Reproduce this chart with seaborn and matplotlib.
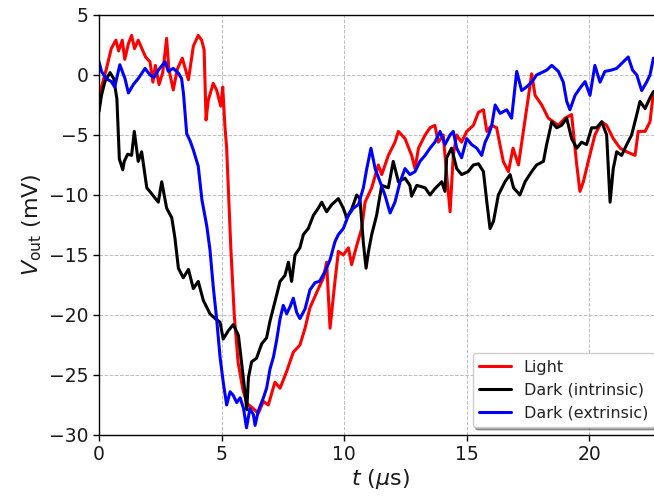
import numpy as np
import pandas as pd
import matplotlib
matplotlib.use("Agg")
import matplotlib.pyplot as plt
import seaborn as sns
from matplotlib.lines import Line2D

# ---- data ----
t_light = [0.0, 0.1, 0.3, 0.5, 0.69, 0.8, 0.95, 1.05, 1.2, 1.33,
           1.45, 1.6, 1.75, 1.9, 2.08, 2.2, 2.3, 2.45, 2.6, 2.76,
           2.85, 3.03, 3.2, 3.4, 3.65, 3.85, 4.05, 4.19, 4.29, 4.37,
           4.46, 4.66, 4.8, 4.97, 5.05, 5.14, 5.21, 5.38, 5.52, 5.68,
           5.88, 6.05, 6.3, 6.5, 6.71, 6.91, 7.18, 7.39, 7.66, 7.93,
           8.2, 8.41, 8.61, 8.89, 9.16, 9.29, 9.43, 9.63, 9.77, 9.97,
           10.18, 10.31, 10.52, 10.72, 10.86, 11.13, 11.4, 11.54, 11.81, 12.08,
           12.22, 12.49, 12.76, 12.9, 13.04, 13.31, 13.51, 13.71, 13.85, 14.05,
           14.19, 14.33, 14.46, 14.6, 14.8, 15.01, 15.28, 15.49, 15.69, 15.83,
           16.03, 16.23, 16.5, 16.71, 16.9, 17.12, 17.32, 17.52, 17.66, 17.8,
           18.07, 18.34, 18.75, 19.02, 19.29, 19.5, 19.63, 19.77, 19.97, 20.24,
           20.52, 20.72, 20.99, 21.27, 21.54, 21.88, 22.01, 22.29, 22.49, 22.63,
           22.8, 23.0]
v_light = [-1.7, -1.0, 0.5, 2.2, 2.9, 2.0, 2.9, 1.3, 2.6, 3.3,
           2.2, 2.9, 2.2, 1.5, 1.1, -0.6, 0.8, -0.8, 0.2, 3.05,
           0.5, -1.25, 0.5, 1.4, -0.4, 2.4, 3.3, 2.9, 2.1, -3.75,
           -2.1, -0.7, -1.25, -2.6, -1.0, -4.3, -6.1, -14.4, -20.0, -24.0,
           -26.3, -27.4, -27.8, -28.2, -27.2, -27.5, -25.6, -26.1, -24.7, -23.1,
           -22.5, -21.1, -19.4, -18.1, -16.9, -15.6, -21.1, -17.2, -14.7, -15.0,
           -14.4, -15.8, -14.2, -12.8, -10.6, -9.4, -7.5, -8.3, -6.7, -5.6,
           -4.7, -5.3, -6.7, -7.8, -6.1, -5.0, -4.4, -4.2, -5.6, -5.0,
           -8.3, -11.4, -6.7, -5.0, -5.6, -4.7, -4.2, -3.1, -2.9, -4.7,
           -4.2, -4.4, -7.2, -8.05, -6.1, -7.5, -4.7, -1.9, 0.1, -1.7,
           -2.5, -3.6, -4.2, -3.6, -3.3, -7.5, -9.7, -8.9, -7.2, -5.0,
           -3.9, -4.2, -5.3, -6.1, -6.4, -6.7, -4.7, -4.7, -3.9, -1.4,
           -1.2, -1.0]

t_intr = [0.0, 0.1, 0.24, 0.45, 0.6, 0.73, 0.83, 0.97, 1.03, 1.17,
          1.33, 1.44, 1.6, 1.74, 1.95, 2.15, 2.42, 2.56, 2.76, 2.97,
          3.1, 3.24, 3.44, 3.65, 3.85, 4.05, 4.26, 4.53, 4.74, 4.94,
          5.07, 5.28, 5.48, 5.69, 5.82, 5.96, 6.03, 6.1, 6.23, 6.43,
          6.64, 6.84, 6.98, 7.18, 7.39, 7.59, 7.73, 7.86, 8.0, 8.2,
          8.34, 8.54, 8.75, 8.95, 9.09, 9.29, 9.5, 9.77, 9.97, 10.11,
          10.31, 10.52, 10.65, 10.79, 10.9, 11.0, 11.13, 11.33, 11.54, 11.81,
          12.01, 12.22, 12.49, 12.69, 12.76, 12.97, 13.31, 13.51, 13.7, 13.99,
          14.12, 14.19, 14.39, 14.6, 14.8, 15.07, 15.28, 15.49, 15.69, 15.83,
          15.96, 16.1, 16.3, 16.57, 16.78, 16.92, 17.18, 17.39, 17.66, 17.86,
          18.14, 18.27, 18.48, 18.68, 18.88, 19.09, 19.29, 19.5, 19.7, 19.9,
          20.11, 20.31, 20.52, 20.72, 20.86, 20.99, 21.13, 21.33, 21.54, 21.74,
          21.95, 22.08, 22.29, 22.49, 22.63, 22.8, 23.0]
v_intr = [-3.05, -1.7, -0.55, 0.2, -0.3, -2.0, -7.0, -7.9, -7.2, -6.6,
          -6.7, -4.7, -7.2, -6.4, -9.4, -9.9, -10.6, -8.9, -11.1, -11.9,
          -13.6, -16.1, -16.9, -16.2, -17.8, -17.2, -18.8, -19.9, -20.3, -20.6,
          -22.0, -21.3, -20.8, -21.7, -24.0, -26.5, -27.9, -25.2, -23.9, -23.6,
          -22.4, -21.9, -20.5, -18.9, -17.2, -16.7, -15.6, -17.2, -15.0, -14.4,
          -13.3, -12.8, -11.7, -11.1, -10.6, -11.4, -10.8, -10.3, -11.1, -11.9,
          -11.2, -10.0, -10.3, -14.0, -16.1, -14.7, -13.3, -11.7, -9.2, -9.4,
          -7.2, -8.9, -8.6, -9.2, -10.1, -9.2, -9.4, -10.0, -9.5, -8.9,
          -9.7, -6.9, -6.1, -7.8, -8.3, -8.05, -7.5, -7.4, -8.05, -10.6,
          -12.8, -12.2, -10.0, -8.9, -8.3, -9.4, -10.0, -8.9, -8.05, -7.5,
          -7.2, -5.8, -3.9, -4.4, -4.2, -3.6, -5.3, -6.1, -5.6, -5.8,
          -4.4, -4.4, -3.9, -5.0, -10.6, -7.8, -6.4, -6.7, -5.8, -5.0,
          -3.3, -2.2, -2.8, -1.9, -1.4, -1.3, -1.1]

t_extr = [0.0, 0.1, 0.3, 0.5, 0.64, 0.85, 1.06, 1.2, 1.4, 1.6,
          1.88, 2.08, 2.25, 2.42, 2.7, 2.83, 3.03, 3.24, 3.37, 3.45,
          3.58, 3.72, 3.85, 4.05, 4.2, 4.4, 4.53, 4.67, 4.8, 4.94,
          5.07, 5.21, 5.35, 5.48, 5.62, 5.76, 5.9, 6.02, 6.16, 6.3,
          6.37, 6.5, 6.71, 6.84, 6.98, 7.12, 7.25, 7.39, 7.52, 7.66,
          7.8, 7.93, 8.07, 8.2, 8.41, 8.61, 8.82, 9.0, 9.22, 9.43,
          9.63, 9.77, 9.97, 10.18, 10.38, 10.59, 10.79, 10.93, 11.1, 11.27,
          11.47, 11.67, 11.88, 12.08, 12.29, 12.49, 12.69, 12.9, 13.1, 13.31,
          13.51, 13.71, 13.92, 14.12, 14.33, 14.46, 14.6, 14.8, 15.01, 15.21,
          15.42, 15.62, 15.76, 15.9, 16.03, 16.17, 16.37, 16.64, 16.84, 17.05,
          17.25, 17.45, 17.66, 17.86, 18.07, 18.27, 18.48, 18.75, 18.95, 19.09,
          19.22, 19.43, 19.63, 19.84, 20.04, 20.24, 20.45, 20.65, 20.9, 21.13,
          21.4, 21.6, 21.78, 21.95, 22.15, 22.35, 22.49, 22.63, 22.8, 23.0]
v_extr = [1.1, 0.3, -0.3, -0.55, -1.0, 0.85, -0.3, -1.5, -0.8, -0.3,
          0.55, 0.0, -0.2, 0.4, 1.1, 0.3, 0.55, 0.15, -0.3, -1.6,
          -4.9, -5.5, -6.25, -7.6, -10.4, -12.6, -14.6, -17.8, -20.3, -23.5,
          -25.6, -27.5, -26.4, -26.7, -27.3, -26.9, -27.8, -29.4, -27.8, -28.3,
          -29.2, -28.0, -26.9, -26.1, -24.5, -23.5, -22.1, -20.3, -19.2, -19.9,
          -19.3, -18.6, -19.8, -20.3, -19.5, -17.9, -17.3, -17.2, -16.4, -15.4,
          -13.9, -13.3, -12.8, -11.7, -11.1, -10.8, -9.4, -7.8, -6.1, -7.8,
          -8.9, -10.0, -11.5, -10.6, -8.9, -7.8, -8.3, -8.05, -7.2, -6.7,
          -6.1, -5.6, -4.7, -5.8, -5.0, -4.7, -6.1, -6.9, -5.3, -5.8,
          -6.1, -6.7, -5.6, -5.0, -4.2, -2.5, -3.2, -2.9, -3.6, 0.3,
          -1.3, -1.0, -0.6, 0.0, 0.2, 0.4, 0.8, 0.3, -0.6, -2.2,
          -2.9, -1.7, -1.1, -0.55, -1.7, 0.8, -0.6, 0.3, 0.4, 0.55,
          1.1, 1.5, 0.4, 0.0, -1.3, -0.6, 0.0, 1.4, 1.2, 1.0]

series_names = ["Light", "Dark (intrinsic)", "Dark (extrinsic)"]
series_colors = ["#ff0000", "#000000", "#0000ff"]
x_ticks = [0, 5, 10, 15, 20]
y_ticks = [-30, -25, -20, -15, -10, -5, 0, 5]

df = pd.concat([
    pd.DataFrame({"t": t_light, "v": v_light, "series": series_names[0]}),
    pd.DataFrame({"t": t_intr, "v": v_intr, "series": series_names[1]}),
    pd.DataFrame({"t": t_extr, "v": v_extr, "series": series_names[2]}),
], ignore_index=True)

sns.set_style("ticks")
plt.rcParams["font.family"] = ["DejaVu Sans"]
plt.rcParams["mathtext.fontset"] = "dejavusans"

fig = plt.figure(figsize=(6.54, 4.96), dpi=100)
ax = fig.add_axes([0.1514, 0.123, 0.8616, 0.8468])

sns.lineplot(data=df, x="t", y="v", hue="series", hue_order=series_names,
             palette=dict(zip(series_names, series_colors)),
             estimator=None, sort=False, linewidth=2.2, ax=ax, legend=False)

ax.set_xlim(0, 23)
ax.set_ylim(-30, 5)
ax.set_xticks(x_ticks)
ax.set_yticks(y_ticks)
ax.grid(True, color="#bdbdbd", linestyle="--", linewidth=0.7)
ax.set_axisbelow(True)
ax.tick_params(labelsize=13.5, length=4, width=1, direction="out",
               colors="black", labelcolor="#1a1a1a")
for s in ax.spines.values():
    s.set_color("black")
    s.set_linewidth(1.0)

ax.set_xlabel(r"$t$ ($\mu$s)", fontsize=16, labelpad=2, color="#1a1a1a")
ax.set_ylabel(r"$V_{\rm out}$ (mV)", fontsize=16, labelpad=4, color="#1a1a1a")

handles = [Line2D([0], [0], color=c, lw=2.2) for c in series_colors]
leg = ax.legend(handles, series_names, loc="lower right", fontsize=11.5,
                shadow=True, fancybox=True, framealpha=1.0, edgecolor="#cccccc",
                handlelength=2.0, borderaxespad=0.5)
for txt in leg.get_texts():
    txt.set_color("#222222")

fig.savefig("out.png", dpi=100)
